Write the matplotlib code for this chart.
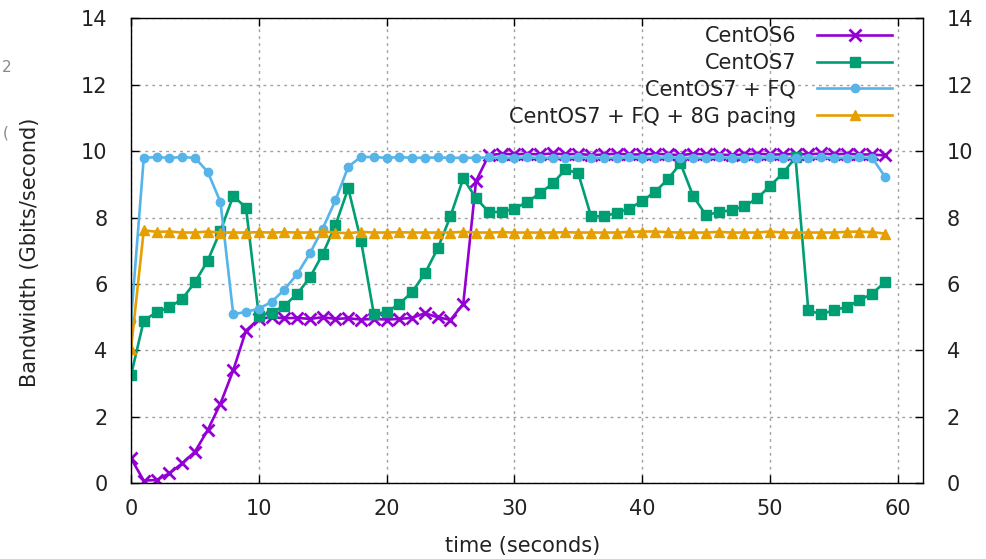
import matplotlib
matplotlib.use('Agg')
import matplotlib.pyplot as plt

time_s = list(range(60))

centos6 = [0.75, 0.08, 0.10, 0.30, 0.60, 0.95, 1.60, 2.40, 3.40, 4.60,
           4.95, 5.00, 4.97, 4.98, 4.95, 5.00, 4.95, 4.97, 4.93, 4.95,
           4.93, 4.95, 4.98, 5.12, 5.00, 4.92, 5.40, 9.10, 9.88, 9.92,
           9.90, 9.92, 9.90, 9.93, 9.90, 9.92, 9.88, 9.90, 9.92, 9.90,
           9.90, 9.92, 9.90, 9.88, 9.92, 9.90, 9.90, 9.88, 9.90, 9.92,
           9.90, 9.90, 9.92, 9.90, 9.93, 9.90, 9.92, 9.90, 9.90, 9.87]

centos7 = [3.25, 4.90, 5.15, 5.30, 5.55, 6.05, 6.70, 7.60, 8.65, 8.30,
           5.05, 5.13, 5.35, 5.70, 6.20, 6.90, 7.77, 8.88, 7.30, 5.10,
           5.15, 5.40, 5.76, 6.32, 7.07, 8.04, 9.18, 8.58, 8.17, 8.17,
           8.27, 8.47, 8.73, 9.03, 9.45, 9.33, 8.04, 8.04, 8.14, 8.27,
           8.50, 8.77, 9.15, 9.63, 8.64, 8.07, 8.17, 8.22, 8.34, 8.58,
           8.95, 9.33, 9.81, 5.21, 5.09, 5.21, 5.31, 5.51, 5.71, 6.06]

centos7_fq = [4.90, 9.80, 9.82, 9.80, 9.82, 9.80, 9.38, 8.47, 5.09, 5.16,
              5.26, 5.46, 5.83, 6.30, 6.92, 7.67, 8.52, 9.53, 9.83, 9.82,
              9.80, 9.82, 9.80, 9.80, 9.81, 9.80, 9.80, 9.80, 9.81, 9.80,
              9.80, 9.81, 9.80, 9.80, 9.80, 9.81, 9.80, 9.80, 9.80, 9.81,
              9.80, 9.80, 9.81, 9.80, 9.80, 9.80, 9.81, 9.80, 9.80, 9.80,
              9.81, 9.80, 9.80, 9.80, 9.81, 9.80, 9.80, 9.81, 9.80, 9.23]

centos7_fq_pacing = [4.05, 7.62, 7.57, 7.58, 7.55, 7.55, 7.58, 7.55, 7.55, 7.55,
                     7.56, 7.55, 7.56, 7.55, 7.55, 7.58, 7.55, 7.53, 7.57, 7.55,
                     7.55, 7.56, 7.55, 7.55, 7.55, 7.55, 7.57, 7.55, 7.55, 7.56,
                     7.55, 7.55, 7.55, 7.55, 7.56, 7.55, 7.55, 7.55, 7.55, 7.57,
                     7.58, 7.58, 7.56, 7.55, 7.55, 7.55, 7.57, 7.55, 7.55, 7.55,
                     7.58, 7.55, 7.55, 7.55, 7.55, 7.55, 7.57, 7.58, 7.56, 7.52]

series_labels = ["CentOS6", "CentOS7", "CentOS7 + FQ", "CentOS7 + FQ + 8G pacing"]
xticks = [0, 10, 20, 30, 40, 50, 60]
yticks = [0, 2, 4, 6, 8, 10, 12, 14]
x_label = "time (seconds)"
y_label = "Bandwidth (Gbits/second)"

plt.rcParams['font.family'] = ['DejaVu Sans']
FS = 15
TXT = '#222222'

W, H = 986, 559
fig = plt.figure(figsize=(W / 100, H / 100), dpi=100)
L, R, T, B = 131, 923.3, 18.3, 483.3
ax = fig.add_axes([L / W, 1 - B / H, (R - L) / W, (B - T) / H])

lw = 1.9
ax.plot(time_s, centos6, color='#9400d3', lw=lw, marker='x', ms=8, mew=2, label=series_labels[0])
ax.plot(time_s, centos7, color='#009e73', lw=lw, marker='s', ms=7.5, label=series_labels[1])
ax.plot(time_s, centos7_fq, color='#56b4e9', lw=lw, marker='o', ms=6, label=series_labels[2])
ax.plot(time_s, centos7_fq_pacing, color='#e69f00', lw=lw, marker='^', ms=7.5, label=series_labels[3])

ax.set_xlim(0, 62)
ax.set_ylim(0, 14)
ax.set_xticks(xticks)
ax.set_yticks(yticks)
ax.set_axisbelow(True)
ax.grid(True, color='#a0a0a0', linestyle=(0, (2, 3)), linewidth=1)
for s in ax.spines.values():
    s.set_linewidth(1.0)
    s.set_color('#000000')

ax.tick_params(axis='both', which='both', direction='in', length=6, width=1,
               top=True, right=True, labelright=True, labelsize=FS, labelcolor=TXT)
ax.tick_params(axis='y', pad=17)
ax.tick_params(axis='x', pad=11)

fig.text(523 / W, 1 - 546 / H, x_label, ha='center', va='center', fontsize=FS, color=TXT)
fig.text(30 / W, 1 - 252 / H, y_label, ha='center', va='center', rotation=90, fontsize=FS, color=TXT)

leg = ax.legend(loc='upper right', bbox_to_anchor=(892 / W, 1 - 26 / H),
                bbox_transform=fig.transFigure, frameon=False, markerfirst=False,
                handlelength=3.6, handletextpad=1.0, labelspacing=0.33,
                borderpad=0, borderaxespad=0, fontsize=FS)
for t in leg.get_texts():
    t.set_color(TXT)

# clipped fragments at the left edge of the reference image
fig.text(2 / W, 1 - 68 / H, '2', ha='left', va='center', fontsize=11, color='#888888')
fig.text(3 / W, 1 - 133 / H, '(', ha='left', va='center', fontsize=11, color='#888888')

fig.savefig('out.png', dpi=100)
